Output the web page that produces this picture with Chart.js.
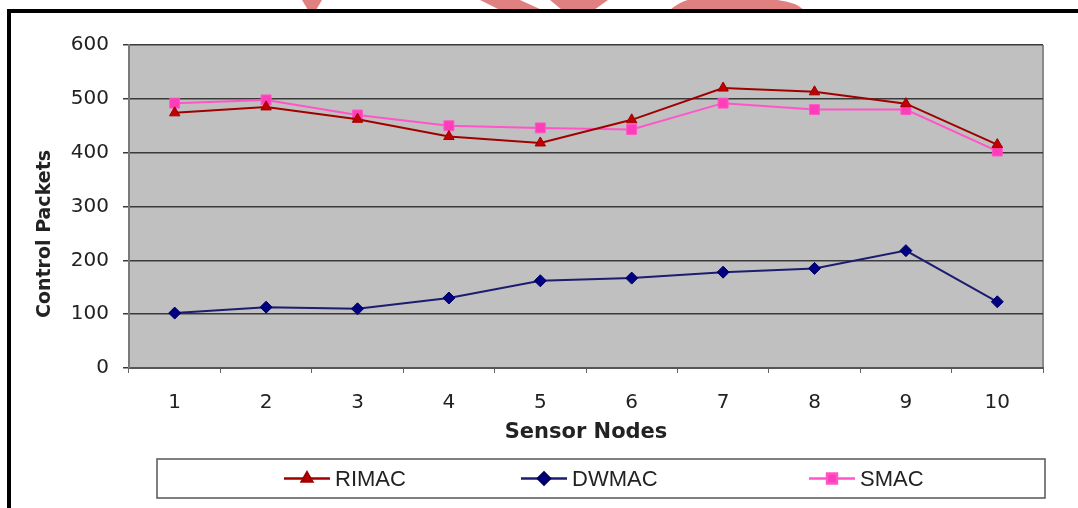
<!DOCTYPE html>
<html>
<head>
<meta charset="utf-8">
<script src="https://cdn.jsdelivr.net/npm/chart.js@4.4.1/dist/chart.umd.min.js"></script>
<style>
  html, body { margin: 0; padding: 0; background: #fff; }
  #wrap { position: relative; width: 1078px; height: 508px; overflow: hidden; background: #fff; }
  #c { position: absolute; left: 0; top: 0; }
  .bl { position: absolute; left: 7px; top: 9px; width: 4px; height: 499px; background: #000; }
  .bt { position: absolute; left: 7px; top: 9px; width: 1071px; height: 4px; background: #000; }
  svg.wm { position: absolute; left: 0; top: 0; }
</style>
</head>
<body>
<div id="wrap">
  <canvas id="c" width="1078" height="508"></canvas>
  <svg class="wm" width="1078" height="10">
    <polygon points="302,0 322,0 316,10 308,10" fill="#e08080"/>
    <polygon points="480,0 520,0 542,10 500,10" fill="#e08080"/>
    <polygon points="550,0 608,0 594,10 562,10" fill="#e08080"/>
    <path d="M670,10 Q692,-10 740,0 Q790,-4 804,10 Z" fill="#e08080"/>
  </svg>
  <div class="bt"></div>
  <div class="bl"></div>
</div>
<script>
const categories = ['1','2','3','4','5','6','7','8','9','10'];
const rimac = [474, 485, 462, 430, 418, 461, 520, 513, 491, 415];
const dwmac = [102, 113, 110, 130, 162, 167, 178, 185, 218, 123];
const smac  = [492, 498, 470, 450, 446, 443, 492, 480, 480, 403];
const yTicks = [0, 100, 200, 300, 400, 500, 600];
const seriesNames = ['RIMAC', 'DWMAC', 'SMAC'];
const xTitle = 'Sensor Nodes';
const yTitle = 'Control Packets';

const FONT = 'DejaVu Sans, Liberation Sans, Arial, sans-serif';

const plotBg = {
  id: 'plotBg',
  beforeDraw(chart) {
    const {ctx, chartArea: a} = chart;
    ctx.save();
    ctx.fillStyle = '#c0c0c0';
    ctx.fillRect(a.left, a.top, a.right - a.left, a.bottom - a.top);
    ctx.strokeStyle = '#8a8a8a';
    ctx.lineWidth = 2;
    ctx.beginPath();
    ctx.moveTo(a.right, a.top);
    ctx.lineTo(a.right, a.bottom);
    ctx.stroke();
    ctx.restore();
  }
};

const yTitlePlugin = {
  id: 'yTitlePlugin',
  afterDraw(chart) {
    const c = chart.ctx;
    c.save();
    c.translate(45, 234);
    c.rotate(-Math.PI / 2);
    c.font = 'bold 19px ' + FONT;
    c.fillStyle = '#222';
    c.textAlign = 'center';
    c.textBaseline = 'middle';
    c.fillText(yTitle, 0, 0);
    c.restore();
  }
};

const boxLegend = {
  id: 'boxLegend',
  afterDraw(chart) {
    const c = chart.ctx;
    const box = {x: 157, y: 459, w: 888, h: 39};
    c.save();
    c.fillStyle = '#fff';
    c.fillRect(box.x, box.y, box.w, box.h);
    c.strokeStyle = '#555';
    c.lineWidth = 1.5;
    c.strokeRect(box.x, box.y, box.w, box.h);
    const cy = box.y + box.h / 2;
    const starts = [284, 521, 809];
    chart.data.datasets.forEach((ds, i) => {
      const x0 = starts[i];
      c.strokeStyle = ds.borderColor;
      c.lineWidth = 2.5;
      c.beginPath();
      c.moveTo(x0, cy);
      c.lineTo(x0 + 46, cy);
      c.stroke();
      c.fillStyle = ds.pointBackgroundColor;
      c.strokeStyle = ds.pointBorderColor;
      Chart.helpers.drawPoint(c, {
        pointStyle: ds.pointStyle, radius: ds.pointRadius, borderWidth: 1
      }, x0 + 23, cy);
      c.font = '22px "Liberation Sans", Arial, sans-serif';
      c.fillStyle = '#222';
      c.textAlign = 'left';
      c.textBaseline = 'middle';
      c.fillText(ds.label, x0 + 51, cy + 1);
    });
    c.restore();
  }
};

const ctx = document.getElementById('c').getContext('2d');
const chart = new Chart(ctx, {
  type: 'line',
  data: {
    labels: categories,
    datasets: [
      {
        label: seriesNames[0], data: rimac,
        borderColor: '#a00000', borderWidth: 2,
        pointStyle: 'triangle', pointRadius: 6,
        pointBackgroundColor: '#c00000', pointBorderColor: '#a00000', pointBorderWidth: 1,
        tension: 0
      },
      {
        label: seriesNames[1], data: dwmac,
        borderColor: '#1c1c70', borderWidth: 2,
        pointStyle: 'rectRot', pointRadius: 6,
        pointBackgroundColor: '#000080', pointBorderColor: '#000060', pointBorderWidth: 1,
        tension: 0
      },
      {
        label: seriesNames[2], data: smac,
        borderColor: '#ff55c8', borderWidth: 2,
        pointStyle: 'rect', pointRadius: 7,
        pointBackgroundColor: '#ff3db8', pointBorderColor: '#ff55c8', pointBorderWidth: 1,
        tension: 0
      }
    ]
  },
  options: {
    responsive: false,
    animation: false,
    devicePixelRatio: 1,
    layout: { padding: { left: 0, top: 45, right: 35, bottom: 63 } },
    plugins: {
      legend: { display: false },
      tooltip: { enabled: false }
    },
    scales: {
      x: {
        type: 'category',
        offset: true,
        afterFit(s) { s.height = 77; },
        grid: {
          display: true, drawOnChartArea: false, drawTicks: true,
          tickLength: 5, color: '#666', lineWidth: 1, offset: true
        },
        border: { display: true, color: '#555', width: 2 },
        ticks: { font: { family: FONT, size: 20 }, color: '#222', padding: 18, maxRotation: 0 },
        title: {
          display: true, text: xTitle, color: '#222',
          font: { family: FONT, size: 21, weight: 'bold' },
          padding: { top: 0, bottom: 0 }
        }
      },
      y: {
        min: 0, max: 600,
        afterFit(s) { s.width = 129; },
        afterBuildTicks(s) { s.ticks = yTicks.map(v => ({ value: v })); },
        grid: {
          display: true, drawOnChartArea: true, drawTicks: true,
          tickLength: 6, color: '#3a3a3a', lineWidth: 1.5
        },
        border: { display: true, color: '#7a7a7a', width: 2 },
        ticks: { font: { family: FONT, size: 20 }, color: '#222', padding: 14 },
        title: { display: false }
      }
    }
  },
  plugins: [plotBg, yTitlePlugin, boxLegend]
});
</script>
</body>
</html>
